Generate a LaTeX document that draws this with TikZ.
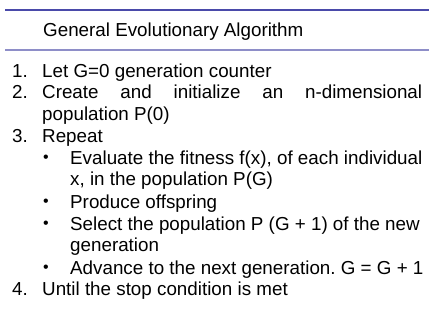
\documentclass[tikz,border=0pt]{standalone}
\usepackage{fontspec}
\setmainfont{Liberation Sans}
\frenchspacing
\definecolor{ruledark}{HTML}{4A4AAA}
\definecolor{rulelight}{HTML}{8E8EC8}
\begin{document}
\begin{tikzpicture}[x=1pt,y=-1pt,
  txt/.style={anchor=base west,inner sep=0pt,font=\fontsize{18.8}{22}\selectfont},
  num/.style={txt},
  bul/.style={anchor=base west,inner sep=0pt,font=\fontsize{16}{16}\selectfont}]
\useasboundingbox (0,0) rectangle (429,322);
% header rules
\coordinate (r1a) at (5,10);  \coordinate (r1b) at (429,10);
\coordinate (r2a) at (5,50);  \coordinate (r2b) at (429,50);
\draw[ruledark,line width=1.5pt] (r1a) -- (r1b);
\draw[rulelight,line width=2pt] (r2a) -- (r2b);
% title
\node[txt] (title) at (43,36.5) {General Evolutionary Algorithm};
% numbered steps
\node[num] (n1) at (12,77) {1.};
\node[txt] (t1) at (42,77) {Let G=0 generation counter};
\node[num] (n2) at (12,98.5) {2.};
\node[txt] (t2) at (42,98.5) {\makebox[380pt][s]{Create and initialize an n-dimensional}};
\node[txt] (t2b) at (42,120) {population P(0)};
\node[num] (n3) at (12,142) {3.};
\node[txt] (t3) at (42,142) {Repeat};
% sub-steps
\node[bul] (b1) at (43,162.5) {•};
\node[txt] (s1) at (70,164) {Evaluate the fitness f(x), of each individual};
\node[txt] (s1b) at (70,185.5) {x, in the population P(G)};
\node[bul] (b2) at (43,206.5) {•};
\node[txt] (s2) at (70,208) {Produce offspring};
\node[bul] (b3) at (43,228.5) {•};
\node[txt] (s3) at (70,230) {Select the population P (G + 1) of the new};
\node[txt] (s3b) at (70,251.5) {generation};
\node[bul] (b4) at (43,272.5) {•};
\node[txt] (s4) at (70,274) {Advance to the next generation. G = G + 1};
\node[num] (n4) at (12,295.5) {4.};
\node[txt] (t4) at (42,295.5) {Until the stop condition is met};
\end{tikzpicture}
\end{document}
